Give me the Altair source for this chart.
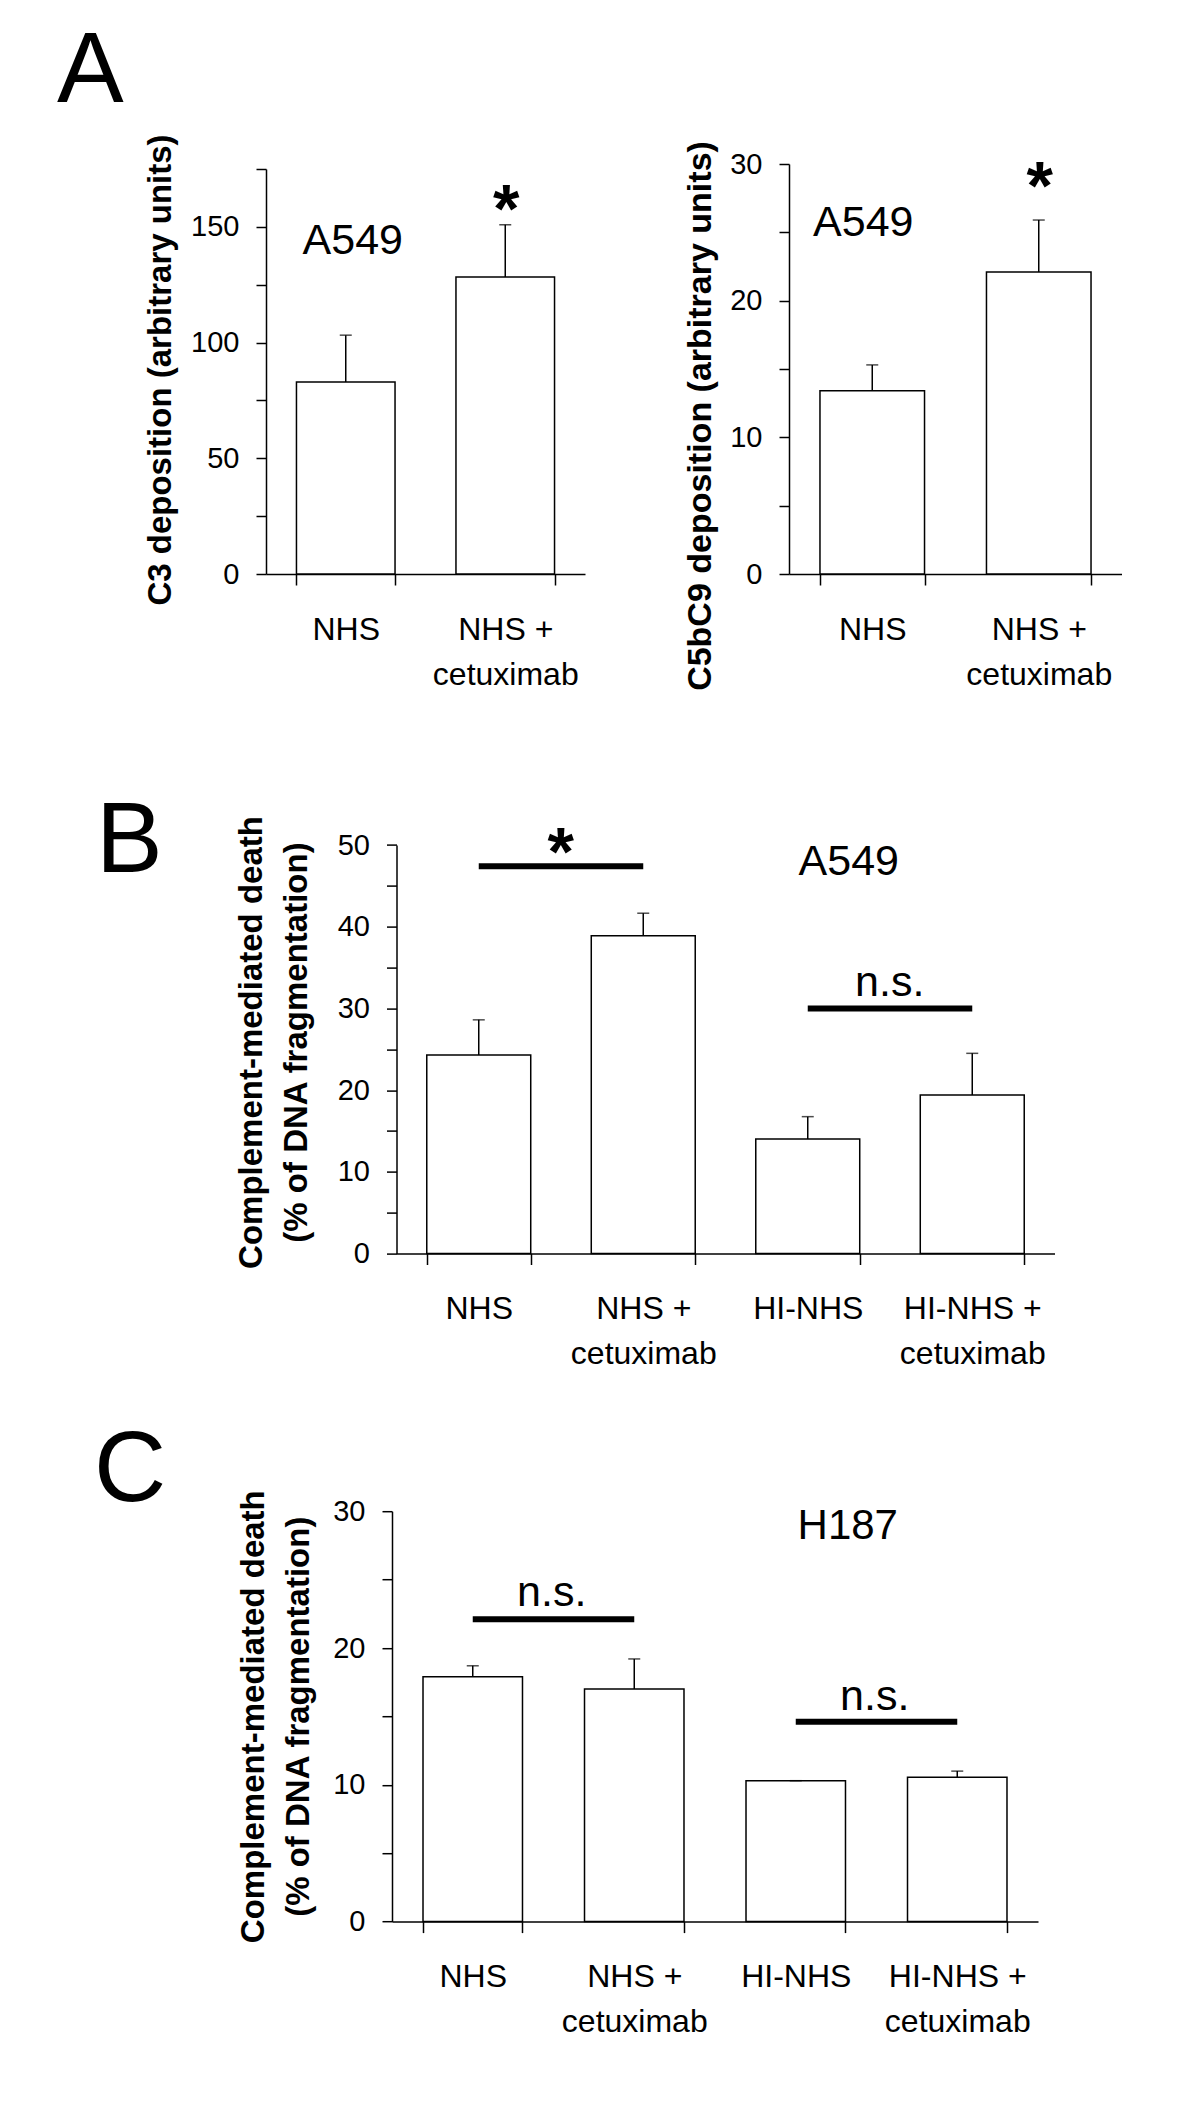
import altair as alt
import pandas as pd

FONT = "Liberation Sans"

# ---------------- data ----------------
a_cats = ["NHS", "NHS +\ncetuximab"]
a_c3_mean = [83.0, 128.3]
a_c3_err = [20.2, 22.6]
a_c5_mean = [13.4, 22.1]
a_c5_err = [1.9, 3.8]

bc_cats = ["NHS", "NHS +\ncetuximab", "HI-NHS", "HI-NHS +\ncetuximab"]
b_mean = [24.3, 38.9, 14.0, 19.4]
b_err = [4.3, 2.75, 2.75, 5.1]
c_mean = [17.9, 17.0, 10.3, 10.55]
c_err = [0.8, 2.2, 0.0, 0.45]

# annotations: (category, y value, text)
a_c3_cell = ("NHS", 138.3, "A549")
a_c3_star = ("NHS +\ncetuximab", 147.6, "*")
a_c5_cell = ("NHS", 24.7, "A549")
a_c5_star = ("NHS +\ncetuximab", 26.7, "*")

b_cell = ("HI-NHS", 46.3, "A549")
b_sig_from = ["NHS", "HI-NHS"]
b_sig_to = ["NHS +\ncetuximab", "HI-NHS +\ncetuximab"]
b_sig_y = [47.4, 30.0]
b_sig_text = ["*", "n.s."]
b_sig_text_y = [46.3, 31.5]

c_cell = ("HI-NHS", 28.0, "H187")
c_sig_from = ["NHS", "HI-NHS"]
c_sig_to = ["NHS +\ncetuximab", "HI-NHS +\ncetuximab"]
c_sig_y = [22.1, 14.6]
c_sig_text = ["n.s.", "n.s."]
c_sig_text_y = [23.1, 15.5]

COMPLEMENT_TITLE = ["Complement-mediated death", "(% of DNA fragmentation)"]


def xaxis():
    return alt.Axis(title=None, orient="bottom", labelAngle=0, labelFont=FONT, labelFontSize=32,
                    labelLineHeight=45, labelBaseline="alphabetic", labelPadding=54,
                    labelExpr="split(datum.label, '\\n')", labelLimit=0,
                    tickBand="extent", tickSize=11, tickWidth=1.5, domainWidth=1.5,
                    labelColor="black", tickColor="black", domainColor="black")


def yaxis(ymax, tstep, lstep, title, tx, ty, tsize, offset=0):
    vals = list(range(0, int(ymax) + 1, tstep))
    return alt.Axis(values=vals, orient="left", offset=offset,
                    labelExpr=f"datum.value % {lstep} === 0 ? datum.label : ''",
                    labelFont=FONT, labelFontSize=29, labelPadding=17, labelOverlap=False,
                    tickSize=10, tickWidth=1.5, domainWidth=1.5, grid=False,
                    labelColor="black", tickColor="black", domainColor="black",
                    title=title, titleFont=FONT, titleFontWeight="bold", titleFontSize=tsize,
                    titleColor="black", titleAngle=270, titleAlign="center",
                    titleBaseline="alphabetic", titleX=tx, titleY=ty, titleLineHeight=45)


def bars_layers(cats, means, errs, xs, ys, yax):
    df = pd.DataFrame({"cat": cats, "mean": means,
                       "hi": [m + e for m, e in zip(means, errs)]})
    base = alt.Chart(df)
    bars = base.mark_bar(fill="white", stroke="black", strokeWidth=1.5).encode(
        x=alt.X("cat:N", sort=None, scale=xs, axis=xaxis()),
        y=alt.Y("mean:Q", scale=ys, axis=yax),
    )
    whisk = base.mark_rule(color="black", strokeWidth=1.5).encode(
        x=alt.X("cat:N", sort=None, scale=xs), y=alt.Y("mean:Q", scale=ys), y2="hi:Q")
    cap = base.mark_tick(color="black", thickness=1.5, size=12).encode(
        x=alt.X("cat:N", sort=None, scale=xs), y=alt.Y("hi:Q", scale=ys))
    return [bars, whisk, cap]


def note(xs, ys, item, size, dx=0, bold=False):
    d = pd.DataFrame({"cat": [item[0]], "y": [item[1]], "t": [item[2]]})
    return alt.Chart(d).mark_text(font=FONT, fontSize=size,
                                  fontWeight="bold" if bold else "normal",
                                  baseline="alphabetic", align="center", dx=dx,
                                  color="black").encode(
        x=alt.X("cat:N", sort=None, scale=xs), y=alt.Y("y:Q", scale=ys), text="t:N")


def sig_lines(xs, ys, f, t, y):
    d = pd.DataFrame({"c1": f, "c2": t, "y": y})
    return alt.Chart(d).mark_rule(color="black", strokeWidth=6).encode(
        x=alt.X("c1:N", sort=None, scale=xs), x2="c2:N", y=alt.Y("y:Q", scale=ys))


def letter(txt, x, y):
    return alt.Chart(pd.DataFrame({"t": [txt]})).mark_text(
        font=FONT, fontSize=100, align="left", baseline="alphabetic", color="black"
    ).encode(text="t:N", x=alt.value(x), y=alt.value(y))


# ---- Row A: two panels drawn in one view with their own scales ----
xsL = alt.Scale(domain=a_cats, range=[0, 319], paddingInner=0.382, paddingOuter=0.191)
ysL = alt.Scale(domain=[0, 175], range=[410, 5], nice=False)
A_left = alt.layer(
    *bars_layers(a_cats, a_c3_mean, a_c3_err, xsL, ysL,
                 yaxis(175, 25, 50, "C3 deposition (arbitrary units)", -96, 205.5, 33)),
    note(xsL, ysL, a_c3_cell, 43, dx=7),
    note(xsL, ysL, a_c3_star, 68, dx=1, bold=True),
    letter("A", -209, -62.5),
)

xsR = alt.Scale(domain=a_cats, range=[523, 856], paddingInner=0.372, paddingOuter=0.186)
ysR = alt.Scale(domain=[0, 30], range=[410, 0], nice=False)
A_right = alt.layer(
    *bars_layers(a_cats, a_c5_mean, a_c5_err, xsR, ysR,
                 yaxis(30, 5, 10, "C5bC9 deposition (arbitrary units)", -79, 251.5, 34,
                       offset=-523)),
    note(xsR, ysR, a_c5_cell, 43, dx=-9),
    note(xsR, ysR, a_c5_star, 68, dx=1, bold=True),
)

rowA = alt.layer(A_left, A_right).resolve_scale(
    x="independent", y="independent").resolve_axis(
    x="independent", y="independent").properties(width=319, height=410)

# ---- Panel B ----
xsB = alt.Scale(domain=bc_cats, range=[130.5, 788.5], paddingInner=0.368, paddingOuter=0.184)
ysB = alt.Scale(domain=[0, 50], range=[421.9, 13.4], nice=False)
B = alt.layer(
    *bars_layers(bc_cats, b_mean, b_err, xsB, ysB,
                 yaxis(50, 5, 10, COMPLEMENT_TITLE, -135, 210.4, 33, offset=-130.5)),
    sig_lines(xsB, ysB, b_sig_from, b_sig_to, b_sig_y),
    note(xsB, ysB, (b_sig_from[0], b_sig_text_y[0], b_sig_text[0]), 68, dx=82, bold=True),
    note(xsB, ysB, (b_sig_from[1], b_sig_text_y[1], b_sig_text[1]), 43, dx=82),
    note(xsB, ysB, b_cell, 43, dx=41),
    letter("B", -170, 39.9),
).properties(width=788.5, height=421.9)

# ---- Panel C ----
xsC = alt.Scale(domain=bc_cats, range=[126, 772], paddingInner=0.384, paddingOuter=0.192)
ysC = alt.Scale(domain=[0, 30], range=[410.4, 0], nice=False)
C = alt.layer(
    *bars_layers(bc_cats, c_mean, c_err, xsC, ysC,
                 yaxis(30, 5, 10, COMPLEMENT_TITLE, -129, 205, 33, offset=-126)),
    sig_lines(xsC, ysC, c_sig_from, c_sig_to, c_sig_y),
    note(xsC, ysC, (c_sig_from[0], c_sig_text_y[0], c_sig_text[0]), 43, dx=79),
    note(xsC, ysC, (c_sig_from[1], c_sig_text_y[1], c_sig_text[1]), 43, dx=79),
    note(xsC, ysC, c_cell, 42, dx=52),
    letter("C", -172, -10.6),
).properties(width=772, height=410.4)

chart = alt.vconcat(rowA, B, C, spacing=257.6, bounds="flush").properties(
    padding={"left": 49, "top": 13, "right": 10, "bottom": 10},
    background="white",
).configure_view(strokeWidth=0)

chart.save("out.html", embed_options={"renderer": "svg", "actions": False})
